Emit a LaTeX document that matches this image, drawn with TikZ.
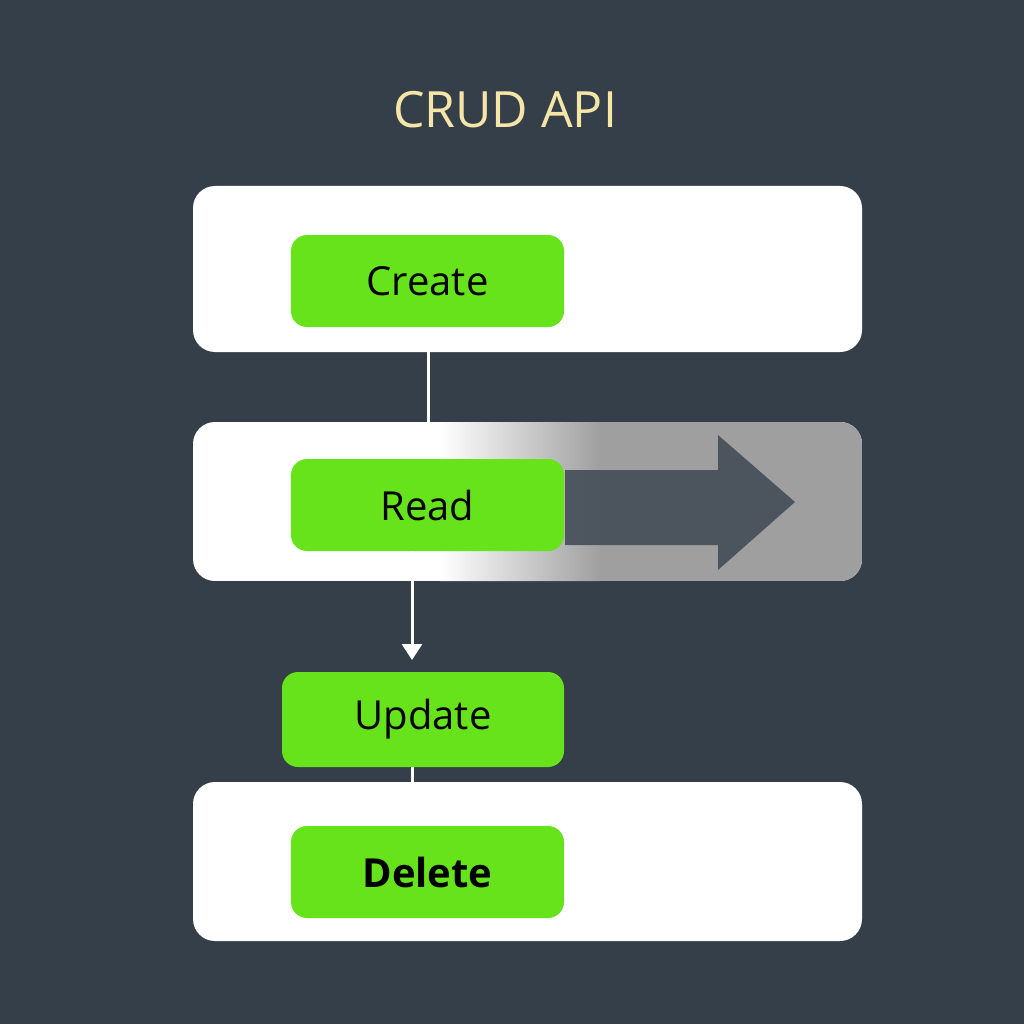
\documentclass[tikz,border=0pt]{standalone}
\usepackage{fontspec}
\setmainfont{Open Sans}
\usetikzlibrary{arrows.meta,shadings}
\definecolor{bg}{HTML}{353F49}
\definecolor{gr}{HTML}{66E31A}
\definecolor{cream}{HTML}{F5E6A8}
\definecolor{sh}{HTML}{444E57}
\begin{document}
\begin{tikzpicture}[x=1pt,y=-1pt,
 panel/.style={fill=white,rounded corners=22pt},
 op/.style={fill=gr,rounded corners=16pt,minimum width=273pt,minimum height=92pt,font=\fontsize{40}{44}\selectfont,text=black},
 flow/.style={white,line width=3pt,-{Triangle[width=20pt,length=16pt]}}]
\fill[bg] (0,0) rectangle (1024,1024);
\useasboundingbox (0,0) rectangle (1024,1024);
\node[font=\fontsize{50}{54}\selectfont,text=cream] (title) at (505,110) {CRUD API};
\fill[panel] (193,186) rectangle (862,352);
\node[coordinate] (p1) at (428,352) {};
\begin{scope}
\clip[rounded corners=22pt] (193,422) rectangle (862,581);
\fill[white] (193,422) rectangle (862,581);
\shade[left color=white,right color=gray!75] (440,422) rectangle (600,581);
\fill[gray!75] (599,422) rectangle (862,581);
\fill[sh,opacity=0.9] (565,470) -- (718,470) -- (718,435) -- (795,502) -- (718,570) -- (718,545) -- (565,545) -- cycle;
\end{scope}
\node[coordinate] (p2) at (428,442) {};
\fill[panel] (193,782) rectangle (862,941);
\node[op] (create) at (427.5,281) {Create};
\node[op] (read) at (427.5,505) {Read};
\node[op,minimum width=282pt,minimum height=95pt] (update) at (423,719.5) {Update};
\node[op,font=\fontsize{40}{44}\selectfont\bfseries] (delete) at (427.5,872) {Delete};
\node[coordinate] (u1) at (412,660) {};
\node[coordinate] (d0) at (412,782) {};
\draw[flow] (p1) -- (p2);
\draw[flow] (read.south -| u1) -- (u1);
\draw[white,line width=3pt] (update.south -| d0) -- (d0);
\end{tikzpicture}
\end{document}
